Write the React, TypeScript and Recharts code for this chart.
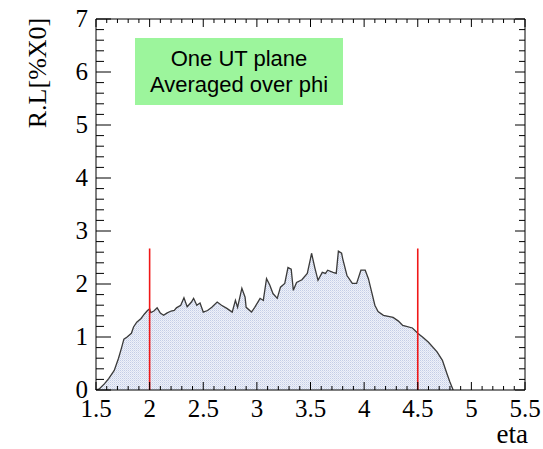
import React from "react";
import {
  ComposedChart,
  Area,
  Line,
  XAxis,
  YAxis,
  ReferenceLine,
} from "recharts";

// ---- data ----
const ETA = [
  1.5, 1.53, 1.58, 1.62, 1.67, 1.71, 1.74, 1.76, 1.79, 1.83, 1.85, 1.88, 1.92,
  1.95, 1.98, 2.0, 2.01, 2.04, 2.07, 2.1, 2.13, 2.16, 2.2, 2.23, 2.25, 2.29,
  2.32, 2.35, 2.39, 2.41, 2.44, 2.47, 2.5, 2.54, 2.58, 2.63, 2.67, 2.72, 2.77,
  2.8, 2.82, 2.86, 2.89, 2.9, 2.95, 2.98, 3.03, 3.06, 3.09, 3.12, 3.15, 3.19,
  3.22, 3.26, 3.29, 3.32, 3.34, 3.37, 3.42, 3.47, 3.5, 3.51, 3.54, 3.57, 3.61,
  3.64, 3.66, 3.71, 3.74, 3.76, 3.79, 3.8, 3.84, 3.89, 3.93, 3.97, 4.01, 4.04,
  4.07, 4.1, 4.13, 4.18, 4.27, 4.32, 4.36, 4.45, 4.5, 4.55, 4.6, 4.68, 4.73,
  4.77, 4.8, 4.83,
];
const RL = [
  0, 0.02, 0.12, 0.22, 0.37, 0.6, 0.81, 0.96, 1.0, 1.07, 1.19, 1.28, 1.35,
  1.43, 1.5, 1.53, 1.46, 1.49, 1.55, 1.45, 1.41, 1.45, 1.49, 1.5, 1.55, 1.6,
  1.74, 1.57, 1.66, 1.73, 1.6, 1.64, 1.47, 1.5, 1.56, 1.66, 1.6, 1.54, 1.47,
  1.69, 1.56, 1.92, 1.75, 1.56, 1.47, 1.56, 1.73, 1.69, 2.1, 1.98, 1.82, 1.73,
  1.94, 2.01, 2.31, 2.28, 1.88, 2.03, 2.08, 2.2, 2.48, 2.58, 2.31, 2.07, 2.22,
  2.2, 2.26, 2.22, 2.2, 2.62, 2.58, 2.48, 2.16, 2.01, 2.01, 2.26, 2.26, 2.1,
  1.85, 1.6, 1.48, 1.41, 1.37, 1.3, 1.22, 1.17, 1.07, 0.99, 0.9, 0.72, 0.56,
  0.32, 0.15, 0,
];
const X_MAJOR = [1.5, 2, 2.5, 3, 3.5, 4, 4.5, 5, 5.5];
const X_LABELS = ["1.5", "2", "2.5", "3", "3.5", "4", "4.5", "5", "5.5"];
const Y_MAJOR = [0, 1, 2, 3, 4, 5, 6, 7];
const Y_LABELS = ["0", "1", "2", "3", "4", "5", "6", "7"];
const CUT_ETA = [2, 4.5];
const CUT_HEIGHT = 2.67;
const LEGEND_LINES = ["One UT plane", "Averaged over phi"];

const data = ETA.map((e, i) => ({ eta: e, rl: RL[i] }));

function subdivide(major: number[], n: number): number[] {
  const out: number[] = [];
  for (let i = 0; i < major.length - 1; i++) {
    for (let k = 0; k < n; k++) {
      out.push(Math.round((major[i] + ((major[i + 1] - major[i]) * k) / n) * 1e6) / 1e6);
    }
  }
  out.push(major[major.length - 1]);
  return out;
}
const X_TICKS = subdivide(X_MAJOR, 5);
const Y_TICKS = subdivide(Y_MAJOR, 5);

const majorIndex = (arr: number[], v: number) =>
  arr.findIndex((m) => Math.abs(m - v) < 1e-6);

const SERIF = "'Liberation Serif', 'Times New Roman', serif";
const SANS = "'Liberation Sans', Arial, sans-serif";

const BottomTick = (p: any) => {
  const idx = majorIndex(X_MAJOR, p.payload.value);
  const major = idx >= 0;
  return (
    <g>
      <line x1={p.x} x2={p.x} y1={p.y} y2={p.y - (major ? 8 : 4)} stroke="#000" strokeWidth={1} />
      {major && (
        <text x={p.x} y={p.y + 27} textAnchor="middle" fontFamily={SERIF} fontSize={25} fill="#000">
          {X_LABELS[idx]}
        </text>
      )}
    </g>
  );
};

const TopTick = (p: any) => {
  const major = majorIndex(X_MAJOR, p.payload.value) >= 0;
  return <line x1={p.x} x2={p.x} y1={p.y} y2={p.y + (major ? 8 : 4)} stroke="#000" strokeWidth={1} />;
};

const LeftTick = (p: any) => {
  const idx = majorIndex(Y_MAJOR, p.payload.value);
  const major = idx >= 0;
  return (
    <g>
      <line x1={p.x} x2={p.x + (major ? 15 : 8)} y1={p.y} y2={p.y} stroke="#000" strokeWidth={1} />
      {major && (
        <text x={p.x - 8} y={p.y} dy="0.33em" textAnchor="end" fontFamily={SERIF} fontSize={25} fill="#000">
          {Y_LABELS[idx]}
        </text>
      )}
    </g>
  );
};

const RightTick = (p: any) => {
  const major = majorIndex(Y_MAJOR, p.payload.value) >= 0;
  return <line x1={p.x} x2={p.x - (major ? 10 : 6)} y1={p.y} y2={p.y} stroke="#000" strokeWidth={1} />;
};

export default function App() {
  return (
    <div style={{ position: "absolute", left: 0, top: 0, width: 543, height: 449, background: "#fff" }}>
      <ComposedChart
        width={543}
        height={449}
        data={data}
        margin={{ top: 0, right: 0, bottom: 0, left: 0 }}
      >
        <defs>
          <pattern id="hatch" width="2" height="2" patternUnits="userSpaceOnUse">
            <rect x="0" y="0" width="2" height="2" fill="#eef1f9" />
            <rect x="0" y="0" width="1" height="1" fill="#c4cde6" />
            <rect x="1" y="1" width="1" height="1" fill="#d9dff0" />
          </pattern>
        </defs>
        <XAxis
          xAxisId="bottom"
          dataKey="eta"
          type="number"
          domain={[1.5, 5.5]}
          ticks={X_TICKS}
          interval={0}
          tickSize={0}
          tickMargin={0}
          tickLine={false}
          tick={<BottomTick />}
          height={59}
          axisLine={{ stroke: "#000", strokeWidth: 1 }}
          allowDataOverflow
        />
        <XAxis
          xAxisId="top"
          dataKey="eta"
          orientation="top"
          type="number"
          domain={[1.5, 5.5]}
          ticks={X_TICKS}
          interval={0}
          tickSize={0}
          tickMargin={0}
          tickLine={false}
          tick={<TopTick />}
          height={19}
          axisLine={{ stroke: "#000", strokeWidth: 1 }}
          allowDataOverflow
        />
        <YAxis
          yAxisId="left"
          type="number"
          domain={[0, 7]}
          ticks={Y_TICKS}
          interval={0}
          tickSize={0}
          tickMargin={0}
          tickLine={false}
          tick={<LeftTick />}
          width={96}
          axisLine={{ stroke: "#000", strokeWidth: 1 }}
          allowDataOverflow
        />
        <YAxis
          yAxisId="right"
          orientation="right"
          type="number"
          domain={[0, 7]}
          ticks={Y_TICKS}
          interval={0}
          tickSize={0}
          tickMargin={0}
          tickLine={false}
          tick={<RightTick />}
          width={18}
          axisLine={{ stroke: "#000", strokeWidth: 1 }}
          allowDataOverflow
        />
        <Area
          xAxisId="bottom"
          yAxisId="left"
          dataKey="rl"
          type="linear"
          stroke="#3a3a3a"
          strokeWidth={1.3}
          fill="url(#hatch)"
          fillOpacity={1}
          baseValue={0}
          dot={false}
          activeDot={false}
          isAnimationActive={false}
        />
        <Line
          xAxisId="top"
          yAxisId="right"
          dataKey="rl"
          type="linear"
          stroke="none"
          strokeWidth={0}
          dot={false}
          activeDot={false}
          legendType="none"
          isAnimationActive={false}
        />
        {CUT_ETA.map((e) => (
          <ReferenceLine
            key={e}
            xAxisId="bottom"
            yAxisId="left"
            segment={[
              { x: e, y: 0 },
              { x: e, y: CUT_HEIGHT },
            ]}
            stroke="#f01818"
            strokeWidth={1.6}
          />
        ))}
      </ComposedChart>
      <div
        style={{
          position: "absolute",
          left: 14,
          top: 73,
          transform: "translate(-50%, -50%) rotate(-90deg)",
          transformOrigin: "center",
          fontFamily: SERIF,
          fontSize: 26,
          whiteSpace: "nowrap",
          color: "#000",
          lineHeight: 1,
          marginLeft: 24,
        }}
      >
        R.L[%X0]
      </div>
      <div
        style={{
          position: "absolute",
          left: 488,
          top: 421,
          width: 40,
          textAlign: "right",
          fontFamily: SERIF,
          fontSize: 27,
          lineHeight: "27px",
          color: "#000",
        }}
      >
        eta
      </div>
      <div
        style={{
          position: "absolute",
          left: 135,
          top: 38,
          width: 208,
          height: 67,
          background: "#9cf59c",
          fontFamily: SANS,
          fontSize: 22,
          lineHeight: "26px",
          textAlign: "center",
          color: "#000",
          display: "flex",
          flexDirection: "column",
          justifyContent: "center",
        }}
      >
        {LEGEND_LINES.map((l) => (
          <div key={l}>{l}</div>
        ))}
      </div>
    </div>
  );
}
